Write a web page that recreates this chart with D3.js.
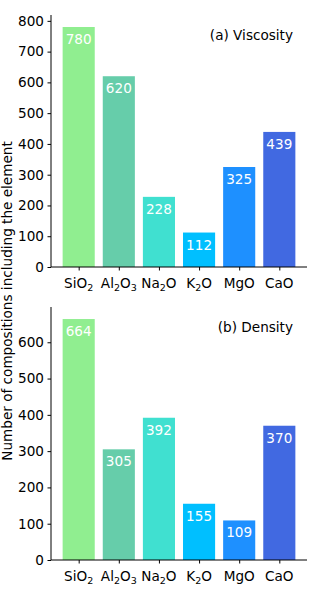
<!DOCTYPE html>
<html><head><meta charset="utf-8">
<script src="https://cdn.jsdelivr.net/npm/d3@7"></script>
<style>body{margin:0;background:#fff}svg{display:block;font-family:"DejaVu Sans",sans-serif}</style>
</head><body><svg id="c" width="322" height="600"></svg>
<script>
const categories = [["SiO","2",""],["Al","2","O","3"],["Na","2","O"],["K","2","O"],["MgO"],["CaO"]];
const categoryNames = ["SiO2","Al2O3","Na2O","K2O","MgO","CaO"];
const colors = ["#90EE90","#66CDAA","#40E0D0","#00BFFF","#1E90FF","#4169E1"];
const viscosity = [780,620,228,112,325,439];
const density = [664,305,392,155,109,370];
const yTicksA = [0,100,200,300,400,500,600,700,800];
const yTicksB = [0,100,200,300,400,500,600];
const titles = ["(a) Viscosity","(b) Density"];
const yLabel = "Number of compositions including the element";

const svg = d3.select("#c");
const left = 51, right = 307;
const fs = 13.6;

function panel(values, ticks, title, top, bottom) {
  const g = svg.append("g");
  const x = d3.scaleLinear().domain([-0.69, 5.69]).range([left, right]);
  const ymax = d3.max(values) * 1.05;
  const y = d3.scaleLinear().domain([0, ymax]).range([bottom, top]);
  g.selectAll("rect").data(values).join("rect")
    .attr("x", (d,i) => x(i - 0.4)).attr("width", x(0.8) - x(0))
    .attr("y", d => y(d)).attr("height", d => y(0) - y(d))
    .attr("fill", (d,i) => colors[i]);
  g.selectAll("text.val").data(values).join("text").attr("class","val")
    .attr("x", (d,i) => x(i)).attr("y", d => y(d) + 17)
    .attr("text-anchor","middle").attr("fill","#fff").attr("font-size",fs)
    .text(d => d);
  const ya = d3.axisLeft(y).tickValues(ticks).tickSize(3.5).tickPadding(3.5);
  const yg = g.append("g").attr("transform",`translate(${left},0)`).call(ya);
  yg.select(".domain").attr("d", `M0,${top}V${bottom}`).attr("stroke","#000").attr("stroke-width",1);
  yg.selectAll("text").attr("font-size",fs).attr("fill","#000").attr("font-family","DejaVu Sans");
  yg.selectAll(".tick line").attr("stroke","#000");
  const xa = d3.axisBottom(x).tickValues(d3.range(6)).tickSize(3.5).tickPadding(3.5).tickFormat(() => "");
  const xg = g.append("g").attr("transform",`translate(0,${bottom})`).call(xa);
  xg.select(".domain").attr("d", `M${left},0H${right}`).attr("stroke","#000");
  xg.selectAll(".tick line").attr("stroke","#000");
  xg.selectAll(".tick text").remove();
  categories.forEach((parts, i) => {
    const t = g.append("text").attr("x", x(i)).attr("y", bottom + 21)
      .attr("text-anchor","middle").attr("font-size",fs).attr("fill","#000");
    parts.forEach((p, j) => {
      if (p === "") return;
      if (j % 2 === 1) t.append("tspan").attr("font-size",fs*0.7).attr("dy",3).text(p);
      else t.append("tspan").attr("dy", j === 0 ? 0 : -3).text(p);
    });
  });
  g.append("text").attr("x", 293).attr("y", top + 25).attr("text-anchor","end")
    .attr("font-size",fs).attr("fill","#000").text(title);
}
panel(viscosity, yTicksA, titles[0], 15, 267);
panel(density, yTicksB, titles[1], 307, 560);
svg.append("text").attr("transform","translate(12,301) rotate(-90)")
  .attr("text-anchor","middle").attr("font-size",fs).attr("fill","#000").text(yLabel);
</script></body></html>
